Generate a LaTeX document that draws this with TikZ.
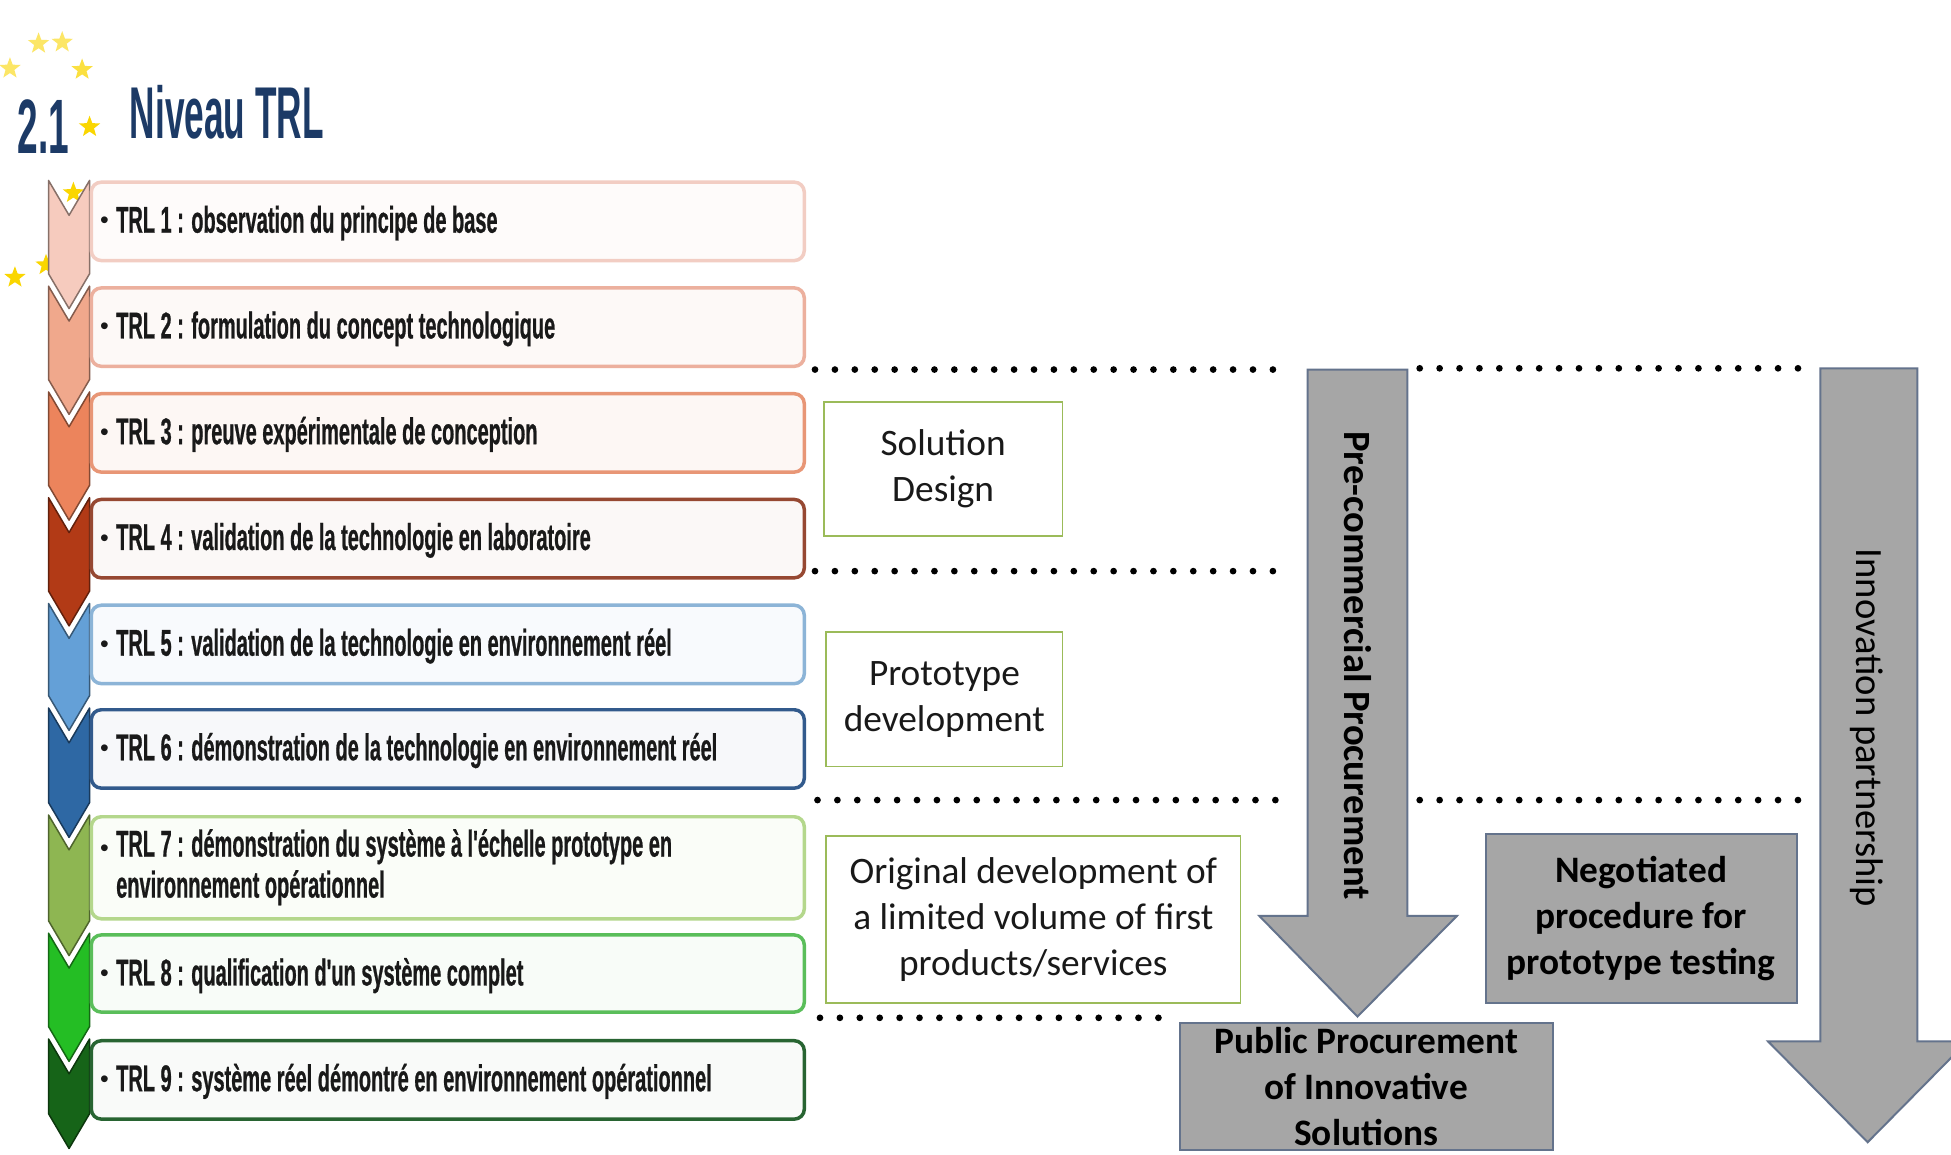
\documentclass[tikz,border=0pt]{standalone}
\usepackage{fontspec}
\setmainfont{Carlito}
\newfontfamily\trlfont[FakeStretch=0.535,FakeBold=0.6]{Liberation Sans}
\newfontfamily\titlefont[FakeStretch=0.48]{Liberation Sans}
\newfontfamily\bulfont{Liberation Sans}
\usetikzlibrary{shapes.geometric}

\definecolor{titleblue}{RGB}{28,58,102}
\definecolor{stary}{RGB}{250,214,0}
\definecolor{textdark}{RGB}{25,25,25}
\definecolor{ch1}{RGB}{246,203,190}
\definecolor{ch2}{RGB}{240,168,140}
\definecolor{ch3}{RGB}{236,132,92}
\definecolor{ch4}{RGB}{178,58,22}
\definecolor{ch5}{RGB}{100,160,215}
\definecolor{ch6}{RGB}{46,104,164}
\definecolor{ch7}{RGB}{142,182,82}
\definecolor{ch8}{RGB}{36,190,36}
\definecolor{ch9}{RGB}{22,100,24}
\definecolor{bd1}{RGB}{242,205,195}
\definecolor{bd2}{RGB}{236,176,158}
\definecolor{bd3}{RGB}{232,150,118}
\definecolor{bd4}{RGB}{150,72,50}
\definecolor{bd5}{RGB}{140,180,215}
\definecolor{bd6}{RGB}{50,90,140}
\definecolor{bd7}{RGB}{180,215,140}
\definecolor{bd8}{RGB}{90,190,90}
\definecolor{bd9}{RGB}{40,100,50}
\definecolor{greenbd}{RGB}{155,187,89}
\definecolor{grayfill}{RGB}{166,166,166}
\definecolor{graybd}{RGB}{100,115,140}

\newcommand{\drawchev}[3]{%
  \path[fill=#3, draw=#3!55!black, line width=0.6pt, line join=round]
    (39,#1) -- (55.5,#1+28) -- (72,#1) -- (72,#2) -- (55.5,#2+28) -- (39,#2) -- cycle;}

\tikzset{
  starsty/.style={star, star points=5, star point ratio=2.4, fill=stary, draw=none, minimum size=9pt, inner sep=0pt},
  trlbox/.style={rounded corners=4pt, line width=1.4pt, inner sep=0pt, anchor=north west, minimum width=286.5pt},
  trltext/.style={font=\trlfont\bfseries\fontsize{15}{16.5}\selectfont, text=textdark, inner sep=0pt, anchor=base west, align=left},
  bulsty/.style={font=\bulfont\fontsize{10}{10}\selectfont, text=textdark, inner sep=0pt, anchor=base west},
  greenbox/.style={draw=greenbd, line width=0.7pt, fill=white, align=center, inner sep=0pt, font=\fontsize{15}{18.5}\selectfont, text=textdark},
  graybox/.style={draw=graybd, line width=0.8pt, fill=grayfill, align=center, inner sep=0pt, font=\bfseries\fontsize{15}{18.5}\selectfont, text=black},
  grayarrow/.style={fill=grayfill, draw=graybd, line width=0.8pt, line join=miter},
  dotsty/.style={line width=2.7pt, line cap=round, dash pattern=on 0pt off 8pt, black}
}

\begin{document}
\begin{tikzpicture}[x=0.5pt,y=-0.5pt]
\useasboundingbox (0,0) rectangle (1568,928);
\clip (0,0) rectangle (1568,928);
\fill[white] (0,0) rectangle (1568,928);

% stars
\node[starsty, opacity=0.6] (s1) at (31,35) {};
\node[starsty, opacity=0.6] (s2) at (50,34) {};
\node[starsty, opacity=0.75] (s3) at (66,56) {};
\node[starsty, opacity=0.6] (s4) at (8,55) {};
\node[starsty] (s5) at (72,102) {};
\node[starsty] (s6) at (59,155) {};
\node[starsty] (s7) at (12,223) {};
\node[starsty] (s8) at (37,213) {};

% title
\node[font=\titlefont\bfseries\fontsize{31}{31}\selectfont, text=titleblue, inner sep=0pt, anchor=base west] (num) at (14,123) {2.1};
\node[font=\titlefont\bfseries\fontsize{29.5}{29.5}\selectfont, text=titleblue, inner sep=0pt, anchor=base west] (title) at (104,111) {Niveau TRL};

% chevrons
\drawchev{145}{220}{ch1}
\drawchev{230}{305}{ch2}
\drawchev{315}{390}{ch3}
\drawchev{400}{475}{ch4}
\drawchev{485}{559}{ch5}
\drawchev{569}{645}{ch6}
\drawchev{655}{740}{ch7}
\drawchev{750}{825}{ch8}
\drawchev{835}{895}{ch9}

% TRL boxes
\node[trlbox, draw=bd1, fill=bd1!8!white, minimum height=31.5pt] (b1) at (72,145) {};
\node[trlbox, draw=bd2, fill=bd2!8!white, minimum height=31.5pt] (b2) at (72,230) {};
\node[trlbox, draw=bd3, fill=bd3!8!white, minimum height=31.5pt] (b3) at (72,315) {};
\node[trlbox, draw=bd4, fill=bd4!4!white, minimum height=31.5pt] (b4) at (72,400) {};
\node[trlbox, draw=bd5, fill=bd5!6!white, minimum height=31.5pt] (b5) at (72,485) {};
\node[trlbox, draw=bd6, fill=bd6!4!white, minimum height=31.5pt] (b6) at (72,569) {};
\node[trlbox, draw=bd7, fill=bd7!6!white, minimum height=41pt] (b7) at (72,655) {};
\node[trlbox, draw=bd8, fill=bd8!4!white, minimum height=31pt] (b8) at (72,750) {};
\node[trlbox, draw=bd9, fill=bd9!3!white, minimum height=31.5pt] (b9) at (72,835) {};

% bullets
\node[bulsty] (u1) at (80,184) {•};
\node[bulsty] (u2) at (80,269) {•};
\node[bulsty] (u3) at (80,354) {•};
\node[bulsty] (u4) at (80,439) {•};
\node[bulsty] (u5) at (80,524) {•};
\node[bulsty] (u6) at (80,608) {•};
\node[bulsty] (u7) at (80,688) {•};
\node[bulsty] (u8) at (80,789) {•};
\node[bulsty] (u9) at (80,874) {•};

% TRL texts
\node[trltext] (t1) at (93,187) {TRL 1 : observation du principe de base};
\node[trltext] (t2) at (93,272) {TRL 2 : formulation du concept technologique};
\node[trltext] (t3) at (93,357) {TRL 3 : preuve expérimentale de conception};
\node[trltext] (t4) at (93,442) {TRL 4 : validation de la technologie en laboratoire};
\node[trltext] (t5) at (93,527) {TRL 5 : validation de la technologie en environnement réel};
\node[trltext] (t6) at (93,611) {TRL 6 : démonstration de la technologie en environnement réel};
\node[trltext, anchor=west] (t7) at (93,697) {TRL 7 : démonstration du système à l'échelle prototype en\\environnement opérationnel};
\node[trltext] (t8) at (93,792) {TRL 8 : qualification d'un système complet};
\node[trltext] (t9) at (93,877) {TRL 9 : système réel démontré en environnement opérationnel};

% dotted separators
\coordinate (d1a) at (655,297);
\coordinate (d1b) at (1034,297);
\coordinate (d1c) at (1141,296);
\coordinate (d1d) at (1450,296);
\coordinate (d2a) at (655,459);
\coordinate (d2b) at (1034,459);
\coordinate (d3a) at (657,643);
\coordinate (d3b) at (1037,643);
\coordinate (d3c) at (1141,643);
\coordinate (d3d) at (1457,643);
\coordinate (d4a) at (659,818);
\coordinate (d4b) at (937,818);
\draw[dotsty] (d1a) -- (d1b);
\draw[dotsty] (d1c) -- (d1d);
\draw[dotsty] (d2a) -- (d2b);
\draw[dotsty] (d3a) -- (d3b);
\draw[dotsty] (d3c) -- (d3d);
\draw[dotsty] (d4a) -- (d4b);

% green boxes
\node[greenbox, minimum width=96pt, minimum height=54pt] (sd) at (758,377) {Solution\\Design};
\node[greenbox, minimum width=95pt, minimum height=54pt] (pd) at (759,562) {Prototype\\development};
\node[greenbox, minimum width=166.5pt, minimum height=67pt] (od) at (830.5,739) {Original development of\\a limited volume of first\\products/services};

% big arrows
\path[grayarrow] (1051,297) -- (1131,297) -- (1131,736) -- (1171,736) -- (1091,817) -- (1012,736) -- (1051,736) -- cycle;
\node[rotate=-90, font=\bfseries\fontsize{15.5}{18}\selectfont, text=black, inner sep=0pt] (pcp) at (1091,535) {Pre-commercial Procurement};

\path[grayarrow] (1463,296) -- (1541,296) -- (1541,837) -- (1581,837) -- (1501,918) -- (1421,837) -- (1463,837) -- cycle;
\node[rotate=-90, font=\fontsize{15.5}{18}\selectfont, text=black, inner sep=0pt] (inp) at (1500,585) {Innovation partnership};

% gray boxes
\node[graybox, minimum width=150pt, minimum height=51pt] (ppi) at (1098,873) {Public Procurement\\of Innovative\\Solutions};
\node[graybox, minimum width=125pt, minimum height=68pt] (neg) at (1319,738) {Negotiated\\procedure for\\prototype testing};
\end{tikzpicture}
\end{document}
